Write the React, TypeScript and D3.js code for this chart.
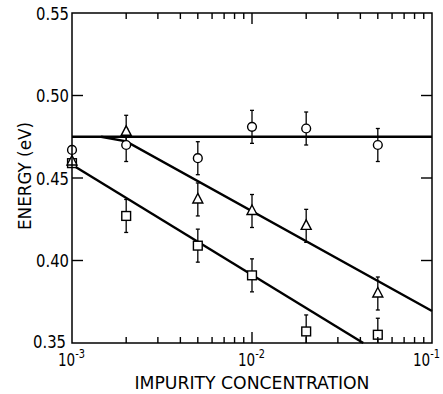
import React from "react";
import * as d3 from "d3";

// ---- data ----
const concentrations = [1e-3, 2e-3, 5e-3, 1e-2, 2e-2, 5e-2];
const circleEnergy = [0.467, 0.47, 0.462, 0.481, 0.48, 0.47];
const triangleEnergy = [0.46, 0.478, 0.437, 0.43, 0.421, 0.38];
const squareEnergy = [0.459, 0.427, 0.409, 0.391, 0.357, 0.355];
const errorHalf = [0, 0.01, 0.01, 0.01, 0.01, 0.01];

const flatLine: [number, number][] = [[1e-3, 0.475], [1e-1, 0.475]];
const triangleLine: [number, number][] = [[1.45e-3, 0.475], [2e-3, 0.4722], [1e-1, 0.3694]];
const squareLine: [number, number][] = [[1e-3, 0.458], [4.15e-2, 0.35]];

const yTicks = [0.35, 0.4, 0.45, 0.5, 0.55];
const yTickLabels = ["0.35", "0.40", "0.45", "0.50", "0.55"];
const xMajor = [1e-3, 1e-2, 1e-1];
const xMajorExp = ["-3", "-2", "-1"];

const W = 443, H = 394;
const left = 72, right = 432, top = 13, bottom = 343;
const FONT = "'DejaVu Sans Condensed', 'DejaVu Sans', sans-serif";

export default function App() {
  const x = d3.scaleLog().domain([1e-3, 1e-1]).range([left, right]);
  const y = d3.scaleLinear().domain([0.35, 0.55]).range([bottom, top]);
  const line = d3.line<[number, number]>().x(d => x(d[0])).y(d => y(d[1]));

  const minor: number[] = [];
  for (const dec of [1e-3, 1e-2]) for (let k = 2; k <= 9; k++) minor.push(dec * k);

  const errBars = (vals: number[]) =>
    concentrations.map((c, i) => {
      const e = errorHalf[i];
      if (!e) return null;
      const cx = x(c);
      const clipped = y(vals[i] - e) > y(0.35);
      const y1 = Math.min(y(0.35), y(vals[i] - e));
      const y2 = y(vals[i] + e);
      return (
        <g key={i} stroke="#000" strokeWidth={1.3}>
          <line x1={cx} x2={cx} y1={y1} y2={y2} />
          {!clipped && <line x1={cx - 2} x2={cx + 2} y1={y1} y2={y1} />}
          <line x1={cx - 2} x2={cx + 2} y1={y2} y2={y2} />
        </g>
      );
    });

  return (
    <svg width={W} height={H} style={{ position: "absolute", left: 0, top: 0, background: "#fff" }}
      fontFamily={FONT}>
      {/* fit lines */}
      <g fill="none" stroke="#000" strokeWidth={2.4}>
        <path d={line(flatLine)!} />
        <path d={line(triangleLine)!} />
        <path d={line(squareLine)!} />
      </g>
      {/* error bars */}
      {errBars(circleEnergy)}
      {errBars(triangleEnergy)}
      {errBars(squareEnergy)}
      {/* markers */}
      <g fill="#fff" stroke="#000" strokeWidth={1.4}>
        {concentrations.map((c, i) => (
          <circle key={"c" + i} cx={x(c)} cy={y(circleEnergy[i])} r={4.4} />
        ))}
        {concentrations.map((c, i) => (
          <rect key={"s" + i} x={x(c) - 4.4} y={y(squareEnergy[i]) - 4.4} width={8.8} height={8.8} />
        ))}
        {concentrations.map((c, i) => {
          const cx = x(c), cy = y(triangleEnergy[i]);
          return <path key={"t" + i} d={`M${cx},${cy - 6}L${cx + 5},${cy + 3.5}L${cx - 5},${cy + 3.5}Z`} />;
        })}
      </g>
      {/* frame */}
      <rect x={left} y={top} width={right - left} height={bottom - top} fill="none" stroke="#000" strokeWidth={1.5} />
      {/* ticks */}
      <g stroke="#000" strokeWidth={1.4}>
        {yTicks.slice(1, -1).map((t, i) => (
          <g key={i}>
            <line x1={left} x2={left + 11} y1={y(t)} y2={y(t)} />
            <line x1={right} x2={right - 11} y1={y(t)} y2={y(t)} />
          </g>
        ))}
        {minor.map((m, i) => (
          <g key={i}>
            <line x1={x(m)} x2={x(m)} y1={bottom} y2={bottom - 6} />
            <line x1={x(m)} x2={x(m)} y1={top} y2={top + 6} />
          </g>
        ))}
        <line x1={x(1e-2)} x2={x(1e-2)} y1={bottom} y2={bottom - 11} />
        <line x1={x(1e-2)} x2={x(1e-2)} y1={top} y2={top + 11} />
      </g>
      {/* y labels */}
      <g fontSize={18} textAnchor="end" fill="#000">
        {yTicks.map((t, i) => (
          <text key={i} x={i === 0 ? left - 6 : left - 3} y={y(t) + (i === 0 ? 5 : 6.5)}
            textLength={33} lengthAdjust="spacingAndGlyphs">{yTickLabels[i]}</text>
        ))}
      </g>
      {/* x labels */}
      <g fill="#000">
        {xMajor.map((m, i) => {
          const sx = x(m) - 14 - (i === 2 ? 5 : 0);
          return (
            <text key={i} x={sx} y={366} fontSize={18} textLength={27} lengthAdjust="spacingAndGlyphs">
              10<tspan dy={-8} fontSize={13}>{xMajorExp[i]}</tspan>
            </text>
          );
        })}
      </g>
      <text x={252} y={389} textAnchor="middle" fontSize={18} fill="#000"
        textLength={235} lengthAdjust="spacingAndGlyphs">IMPURITY CONCENTRATION</text>
      <text transform={`translate(31,176) rotate(-90)`} textAnchor="middle" fontSize={18} fill="#000"
        textLength={108} lengthAdjust="spacingAndGlyphs">ENERGY (eV)</text>
    </svg>
  );
}
